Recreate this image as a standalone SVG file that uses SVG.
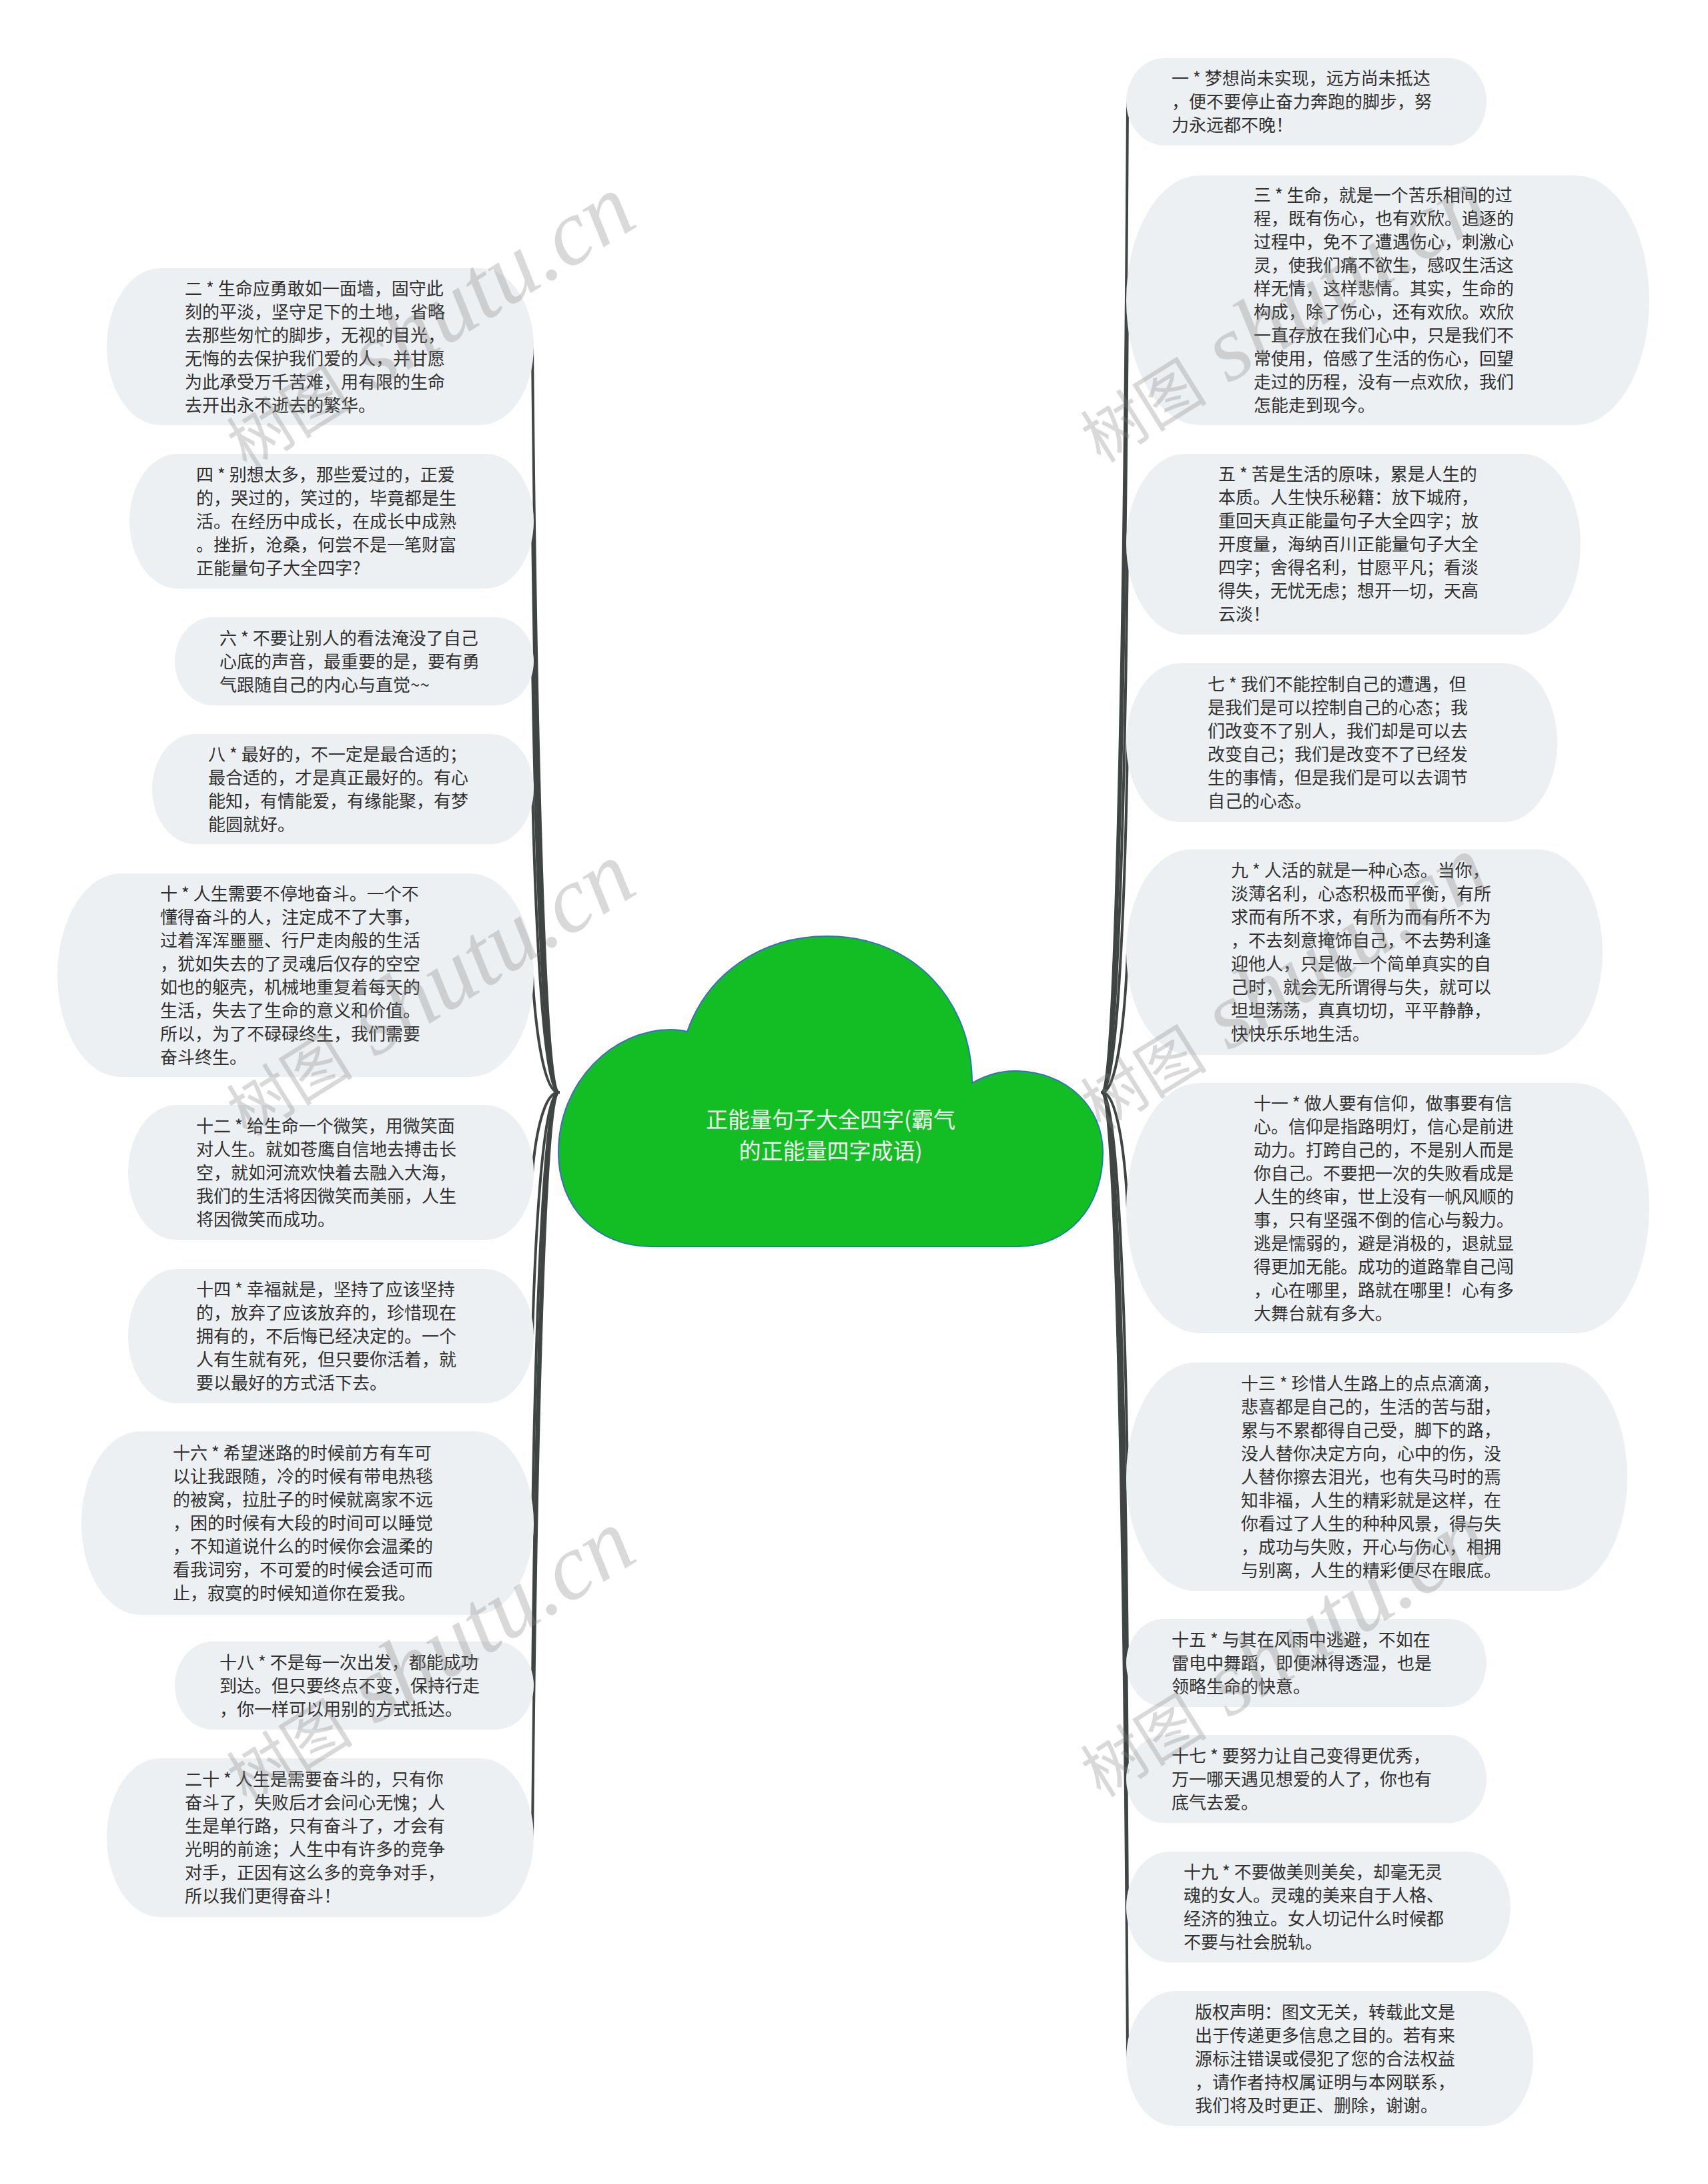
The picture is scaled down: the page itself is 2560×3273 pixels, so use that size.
<svg xmlns="http://www.w3.org/2000/svg" width="2560" height="3273" viewBox="0 0 2560 3273">
<style>
.pill{fill:#EDF0F3}
.t{font-family:"Noto Sans CJK SC","Noto Sans",sans-serif;font-size:26px;fill:#303030}
.conn path{fill:none;stroke:#3E4542;stroke-width:4;stroke-linecap:round}
.ct{font-family:"Noto Sans CJK SC","Noto Sans",sans-serif;font-size:33px;fill:#F2F7F2;text-anchor:middle}
.wm{font-family:"Liberation Serif","Noto Sans CJK SC",serif;fill:#808080;fill-opacity:0.3}
</style>
<rect width="2560" height="3273" fill="#FFFFFF"/>
<g id="connectors" class="conn">
<path d="M837 1637C816 1637 803 1078 798 519.5"/>
<path d="M837 1637C816 1637 803 1209 798 781"/>
<path d="M837 1637C816 1637 803 1314 798 991"/>
<path d="M837 1637C816 1637 803 1410 798 1182.5"/>
<path d="M837 1637C816 1637 803 1549 798 1461.5"/>
<path d="M837 1637C816 1637 803 1697 798 1757"/>
<path d="M837 1637C816 1637 803 1820 798 2002.5"/>
<path d="M837 1637C816 1637 803 1960 798 2282.5"/>
<path d="M837 1637C816 1637 803 2081 798 2526"/>
<path d="M837 1637C816 1637 803 2195 798 2754"/>
<path d="M1652 1637C1673 1637 1686 894 1690 152.5"/>
<path d="M1652 1637C1673 1637 1686 1043 1690 450"/>
<path d="M1652 1637C1673 1637 1686 1226 1690 815.5"/>
<path d="M1652 1637C1673 1637 1686 1375 1690 1113"/>
<path d="M1652 1637C1673 1637 1686 1532 1690 1427"/>
<path d="M1652 1637C1673 1637 1686 1723 1690 1810.5"/>
<path d="M1652 1637C1673 1637 1686 1925 1690 2213"/>
<path d="M1652 1637C1673 1637 1686 2064 1690 2492"/>
<path d="M1652 1637C1673 1637 1686 2151 1690 2666"/>
<path d="M1652 1637C1673 1637 1686 2247 1690 2858"/>
<path d="M1652 1637C1673 1637 1686 2361 1690 3085"/>
</g>
<g id="root">
<path d="M975 1868C895 1868 837 1810 837 1727C837 1620 920 1543 1005 1543C1015 1543 1023 1544 1030 1546C1060 1460 1140 1403 1240 1403C1370 1403 1457 1500 1457 1623C1480 1610 1500 1605 1520 1605C1600 1605 1653 1660 1653 1727C1653 1810 1600 1868 1526 1868Z" fill="#13BE25" stroke="#2E75B6" stroke-width="2"/>
<text class="ct" x="1245" y="1690">正能量句子大全四字(霸气</text>
<text class="ct" x="1245" y="1737">的正能量四字成语)</text>
</g>
<g id="n2"><rect class="pill" x="160" y="402" width="640" height="235" rx="80" ry="117.5"/>
<text class="t" x="277" y="441.5">二 * 生命应勇敢如一面墙，固守此<tspan x="277" dy="35">刻的平淡，坚守足下的土地，省略</tspan><tspan x="277" dy="35">去那些匆忙的脚步，无视的目光，</tspan><tspan x="277" dy="35">无悔的去保护我们爱的人，并甘愿</tspan><tspan x="277" dy="35">为此承受万千苦难，用有限的生命</tspan><tspan x="277" dy="35">去开出永不逝去的繁华。</tspan></text></g>
<g id="n4"><rect class="pill" x="194" y="680" width="606" height="202" rx="72" ry="101"/>
<text class="t" x="294" y="720.5">四 * 别想太多，那些爱过的，正爱<tspan x="294" dy="35">的，哭过的，笑过的，毕竟都是生</tspan><tspan x="294" dy="35">活。在经历中成长，在成长中成熟</tspan><tspan x="294" dy="35">。挫折，沧桑，何尝不是一笔财富</tspan><tspan x="294" dy="35">正能量句子大全四字?</tspan></text></g>
<g id="n6"><rect class="pill" x="262" y="925" width="538" height="132" rx="57" ry="66"/>
<text class="t" x="329" y="965.5">六 * 不要让别人的看法淹没了自己<tspan x="329" dy="35">心底的声音，最重要的是，要有勇</tspan><tspan x="329" dy="35">气跟随自己的内心与直觉~~</tspan></text></g>
<g id="n8"><rect class="pill" x="228" y="1100" width="572" height="165" rx="64" ry="82.5"/>
<text class="t" x="312" y="1139.5">八 * 最好的，不一定是最合适的；<tspan x="312" dy="35">最合适的，才是真正最好的。有心</tspan><tspan x="312" dy="35">能知，有情能爱，有缘能聚，有梦</tspan><tspan x="312" dy="35">能圆就好。</tspan></text></g>
<g id="n10"><rect class="pill" x="86" y="1309" width="714" height="305" rx="95" ry="152.5"/>
<text class="t" x="240" y="1348.5">十 * 人生需要不停地奋斗。一个不<tspan x="240" dy="35">懂得奋斗的人，注定成不了大事，</tspan><tspan x="240" dy="35">过着浑浑噩噩、行尸走肉般的生活</tspan><tspan x="240" dy="35">，犹如失去的了灵魂后仅存的空空</tspan><tspan x="240" dy="35">如也的躯壳，机械地重复着每天的</tspan><tspan x="240" dy="35">生活，失去了生命的意义和价值。</tspan><tspan x="240" dy="35">所以，为了不碌碌终生，我们需要</tspan><tspan x="240" dy="35">奋斗终生。</tspan></text></g>
<g id="n12"><rect class="pill" x="192" y="1656" width="608" height="202" rx="72" ry="101"/>
<text class="t" x="294" y="1696.5">十二 * 给生命一个微笑，用微笑面<tspan x="294" dy="35">对人生。就如苍鹰自信地去搏击长</tspan><tspan x="294" dy="35">空，就如河流欢快着去融入大海，</tspan><tspan x="294" dy="35">我们的生活将因微笑而美丽，人生</tspan><tspan x="294" dy="35">将因微笑而成功。</tspan></text></g>
<g id="n14"><rect class="pill" x="192" y="1902" width="608" height="201" rx="72" ry="100.5"/>
<text class="t" x="294" y="1942">十四 * 幸福就是，坚持了应该坚持<tspan x="294" dy="35">的，放弃了应该放弃的，珍惜现在</tspan><tspan x="294" dy="35">拥有的，不后悔已经决定的。一个</tspan><tspan x="294" dy="35">人有生就有死，但只要你活着，就</tspan><tspan x="294" dy="35">要以最好的方式活下去。</tspan></text></g>
<g id="n16"><rect class="pill" x="122" y="2145" width="678" height="275" rx="88" ry="137.5"/>
<text class="t" x="259" y="2187">十六 * 希望迷路的时候前方有车可<tspan x="259" dy="35">以让我跟随，冷的时候有带电热毯</tspan><tspan x="259" dy="35">的被窝，拉肚子的时候就离家不远</tspan><tspan x="259" dy="35">，困的时候有大段的时间可以睡觉</tspan><tspan x="259" dy="35">，不知道说什么的时候你会温柔的</tspan><tspan x="259" dy="35">看我词穷，不可爱的时候会适可而</tspan><tspan x="259" dy="35">止，寂寞的时候知道你在爱我。</tspan></text></g>
<g id="n18"><rect class="pill" x="262" y="2460" width="538" height="132" rx="57" ry="66"/>
<text class="t" x="329" y="2500.5">十八 * 不是每一次出发，都能成功<tspan x="329" dy="35">到达。但只要终点不变，保持行走</tspan><tspan x="329" dy="35">，你一样可以用别的方式抵达。</tspan></text></g>
<g id="n20"><rect class="pill" x="160" y="2635" width="640" height="238" rx="80" ry="119"/>
<text class="t" x="277" y="2676">二十 * 人生是需要奋斗的，只有你<tspan x="277" dy="35">奋斗了，失败后才会问心无愧；人</tspan><tspan x="277" dy="35">生是单行路，只有奋斗了，才会有</tspan><tspan x="277" dy="35">光明的前途；人生中有许多的竞争</tspan><tspan x="277" dy="35">对手，正因有这么多的竞争对手，</tspan><tspan x="277" dy="35">所以我们更得奋斗！</tspan></text></g>
<g id="n1"><rect class="pill" x="1688" y="87" width="540" height="131" rx="57" ry="65.5"/>
<text class="t" x="1756" y="127">一 * 梦想尚未实现，远方尚未抵达<tspan x="1756" dy="35">，便不要停止奋力奔跑的脚步，努</tspan><tspan x="1756" dy="35">力永远都不晚！</tspan></text></g>
<g id="n3"><rect class="pill" x="1688" y="263" width="784" height="374" rx="110" ry="187"/>
<text class="t" x="1879" y="302">三 * 生命，就是一个苦乐相间的过<tspan x="1879" dy="35">程，既有伤心，也有欢欣。追逐的</tspan><tspan x="1879" dy="35">过程中，免不了遭遇伤心，刺激心</tspan><tspan x="1879" dy="35">灵，使我们痛不欲生，感叹生活这</tspan><tspan x="1879" dy="35">样无情，这样悲情。其实，生命的</tspan><tspan x="1879" dy="35">构成，除了伤心，还有欢欣。欢欣</tspan><tspan x="1879" dy="35">一直存放在我们心中，只是我们不</tspan><tspan x="1879" dy="35">常使用，倍感了生活的伤心，回望</tspan><tspan x="1879" dy="35">走过的历程，没有一点欢欣，我们</tspan><tspan x="1879" dy="35">怎能走到现今。</tspan></text></g>
<g id="n5"><rect class="pill" x="1688" y="680" width="681" height="271" rx="88" ry="135.5"/>
<text class="t" x="1826" y="720">五 * 苦是生活的原味，累是人生的<tspan x="1826" dy="35">本质。人生快乐秘籍：放下城府，</tspan><tspan x="1826" dy="35">重回天真正能量句子大全四字；放</tspan><tspan x="1826" dy="35">开度量，海纳百川正能量句子大全</tspan><tspan x="1826" dy="35">四字；舍得名利，甘愿平凡；看淡</tspan><tspan x="1826" dy="35">得失，无忧无虑；想开一切，天高</tspan><tspan x="1826" dy="35">云淡！</tspan></text></g>
<g id="n7"><rect class="pill" x="1688" y="994" width="646" height="238" rx="80" ry="119"/>
<text class="t" x="1810" y="1035">七 * 我们不能控制自己的遭遇，但<tspan x="1810" dy="35">是我们是可以控制自己的心态；我</tspan><tspan x="1810" dy="35">们改变不了别人，我们却是可以去</tspan><tspan x="1810" dy="35">改变自己；我们是改变不了已经发</tspan><tspan x="1810" dy="35">生的事情，但是我们是可以去调节</tspan><tspan x="1810" dy="35">自己的心态。</tspan></text></g>
<g id="n9"><rect class="pill" x="1688" y="1273" width="714" height="308" rx="96" ry="154"/>
<text class="t" x="1845" y="1314">九 * 人活的就是一种心态。当你，<tspan x="1845" dy="35">淡薄名利，心态积极而平衡，有所</tspan><tspan x="1845" dy="35">求而有所不求，有所为而有所不为</tspan><tspan x="1845" dy="35">，不去刻意掩饰自己，不去势利逢</tspan><tspan x="1845" dy="35">迎他人，只是做一个简单真实的自</tspan><tspan x="1845" dy="35">己时，就会无所谓得与失，就可以</tspan><tspan x="1845" dy="35">坦坦荡荡，真真切切，平平静静，</tspan><tspan x="1845" dy="35">快快乐乐地生活。</tspan></text></g>
<g id="n11"><rect class="pill" x="1688" y="1623" width="784" height="375" rx="110" ry="187.5"/>
<text class="t" x="1879" y="1662.5">十一 * 做人要有信仰，做事要有信<tspan x="1879" dy="35">心。信仰是指路明灯，信心是前进</tspan><tspan x="1879" dy="35">动力。打跨自己的，不是别人而是</tspan><tspan x="1879" dy="35">你自己。不要把一次的失败看成是</tspan><tspan x="1879" dy="35">人生的终审，世上没有一帆风顺的</tspan><tspan x="1879" dy="35">事，只有坚强不倒的信心与毅力。</tspan><tspan x="1879" dy="35">逃是懦弱的，避是消极的，退就显</tspan><tspan x="1879" dy="35">得更加无能。成功的道路靠自己闯</tspan><tspan x="1879" dy="35">，心在哪里，路就在哪里！心有多</tspan><tspan x="1879" dy="35">大舞台就有多大。</tspan></text></g>
<g id="n13"><rect class="pill" x="1688" y="2042" width="751" height="342" rx="103" ry="171"/>
<text class="t" x="1860" y="2082.5">十三 * 珍惜人生路上的点点滴滴，<tspan x="1860" dy="35">悲喜都是自己的，生活的苦与甜，</tspan><tspan x="1860" dy="35">累与不累都得自己受，脚下的路，</tspan><tspan x="1860" dy="35">没人替你决定方向，心中的伤，没</tspan><tspan x="1860" dy="35">人替你擦去泪光，也有失马时的焉</tspan><tspan x="1860" dy="35">知非福，人生的精彩就是这样，在</tspan><tspan x="1860" dy="35">你看过了人生的种种风景，得与失</tspan><tspan x="1860" dy="35">，成功与失败，开心与伤心，相拥</tspan><tspan x="1860" dy="35">与别离，人生的精彩便尽在眼底。</tspan></text></g>
<g id="n15"><rect class="pill" x="1688" y="2426" width="540" height="132" rx="57" ry="66"/>
<text class="t" x="1756" y="2466.5">十五 * 与其在风雨中逃避，不如在<tspan x="1756" dy="35">雷电中舞蹈，即便淋得透湿，也是</tspan><tspan x="1756" dy="35">领略生命的快意。</tspan></text></g>
<g id="n17"><rect class="pill" x="1688" y="2600" width="540" height="132" rx="57" ry="66"/>
<text class="t" x="1756" y="2640.5">十七 * 要努力让自己变得更优秀，<tspan x="1756" dy="35">万一哪天遇见想爱的人了，你也有</tspan><tspan x="1756" dy="35">底气去爱。</tspan></text></g>
<g id="n19"><rect class="pill" x="1688" y="2775" width="576" height="166" rx="65" ry="83"/>
<text class="t" x="1774" y="2815">十九 * 不要做美则美矣，却毫无灵<tspan x="1774" dy="35">魂的女人。灵魂的美来自于人格、</tspan><tspan x="1774" dy="35">经济的独立。女人切记什么时候都</tspan><tspan x="1774" dy="35">不要与社会脱轨。</tspan></text></g>
<g id="ncopy"><rect class="pill" x="1688" y="2984" width="610" height="202" rx="72" ry="101"/>
<text class="t" x="1791" y="3024.5">版权声明：图文无关，转载此文是<tspan x="1791" dy="35">出于传递更多信息之目的。若有来</tspan><tspan x="1791" dy="35">源标注错误或侵犯了您的合法权益</tspan><tspan x="1791" dy="35">，请作者持权属证明与本网联系，</tspan><tspan x="1791" dy="35">我们将及时更正、删除，谢谢。</tspan></text></g>
<g id="watermarks" class="wm">
<text x="370" y="705" transform="rotate(-32 370 705)"><tspan font-size="95">树图</tspan><tspan font-size="140" font-style="italic"> shutu.cn</tspan></text>
<text x="370" y="1705" transform="rotate(-32 370 1705)"><tspan font-size="95">树图</tspan><tspan font-size="140" font-style="italic"> shutu.cn</tspan></text>
<text x="370" y="2705" transform="rotate(-32 370 2705)"><tspan font-size="95">树图</tspan><tspan font-size="140" font-style="italic"> shutu.cn</tspan></text>
<text x="1650" y="695" transform="rotate(-32 1650 695)"><tspan font-size="95">树图</tspan><tspan font-size="140" font-style="italic"> shutu.cn</tspan></text>
<text x="1650" y="1695" transform="rotate(-32 1650 1695)"><tspan font-size="95">树图</tspan><tspan font-size="140" font-style="italic"> shutu.cn</tspan></text>
<text x="1650" y="2695" transform="rotate(-32 1650 2695)"><tspan font-size="95">树图</tspan><tspan font-size="140" font-style="italic"> shutu.cn</tspan></text>
</g>
</svg>
